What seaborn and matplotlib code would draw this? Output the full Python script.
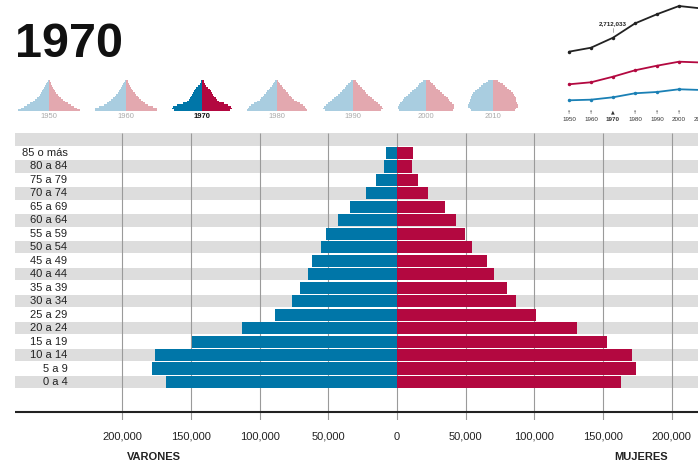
import matplotlib
matplotlib.use("Agg")
import matplotlib.pyplot as plt
import seaborn as sns
import pandas as pd

# Population pyramid 1970
ages = ["85 o más", "80 a 84", "75 a 79", "70 a 74", "65 a 69", "60 a 64",
        "55 a 59", "50 a 54", "45 a 49", "40 a 44", "35 a 39", "30 a 34",
        "25 a 29", "20 a 24", "15 a 19", "10 a 14", "5 a 9", "0 a 4"]
varones = [7800, 9800, 15100, 22900, 34500, 42600, 51500, 55500, 61700,
           64900, 70700, 76500, 88700, 112500, 149200, 176200, 178200, 168200]
mujeres = [11900, 10900, 15000, 22800, 34700, 42700, 49800, 54700, 65400,
           70400, 80400, 86500, 101200, 131000, 152900, 171100, 173700, 162800]
x_ticks = [-200000, -150000, -100000, -50000, 0, 50000, 100000, 150000, 200000]

# thumbnails (half width of each row, top row first)
thumb_years = [1950, 1960, 1970, 1980, 1990, 2000, 2010]
thumb_1950 = [1.2, 1.8, 2.5, 3.5, 4.5, 5.5, 6.5, 7.5, 9, 10, 12, 14, 16, 19, 22, 25, 28, 31]
thumb_1960 = [1.5, 2, 3, 4, 5, 6, 7, 8.5, 10, 11.5, 13, 15, 17, 19, 22, 27, 31, 31]
thumb_1980 = [1.5, 2.5, 3.5, 5, 6.5, 8, 9.5, 11, 12.5, 14, 15.5, 17, 20, 23, 26, 28, 29, 30]
thumb_1990 = [2.5, 3.5, 5, 7, 8.5, 10, 11.5, 13, 15, 17, 19, 21, 23, 25, 27, 29, 30, 28]
thumb_2000 = [3.5, 5, 7, 8.5, 10, 12, 14, 16, 18, 20, 22, 23, 24, 26, 27.5, 28, 28, 27]
thumb_2010 = [5, 7, 10, 12, 14, 16, 18, 20, 21, 22, 22.5, 23, 23, 24, 25, 25, 23, 22]
thumb_centers = [48.7, 126, 202.3, 276.7, 353, 426, 493.3]

# totals line chart (millions)
line_years = [1950, 1960, 1970, 1980, 1990, 2000, 2010]
total = [2.216, 2.357, 2.712, 3.219, 3.545, 3.836, 3.751]
linea_roja = [1.060, 1.131, 1.329, 1.556, 1.719, 1.861, 1.833]
linea_azul = [0.492, 0.514, 0.599, 0.741, 0.787, 0.883, 0.858]

BLUE = "#0076A8"
RED = "#B30840"
LBLUE = "#A9CDE0"
LRED = "#E3A8AF"

sns.set_theme(style="white")
plt.rcParams["font.family"] = ["Liberation Sans", "DejaVu Sans"]

W, H = 698, 465
fig = plt.figure(figsize=(W / 100, H / 100), dpi=100)


def box(x0, y0, x1, y1):
    return [x0 / W, 1 - y1 / H, (x1 - x0) / W, (y1 - y0) / H]


# title
fig.text(15 / W, 1 - 56.7 / H, "1970", fontsize=35, fontweight="bold",
         ha="left", va="baseline", color="#111111")

# ---- main pyramid ----
ax = fig.add_axes(box(15, 132.8, 698, 419.7))
ax.set_facecolor("white")
for k in range(-1, 18, 2):
    ax.axhspan(k - 0.46, k + 0.46, color="#DDDDDD", zorder=0, lw=0)
ax.vlines(x_ticks, -1.5, 19.8, color="#9A9A9A", lw=0.8, zorder=1)

df = pd.DataFrame({"edad": ages, "varones": [-v for v in varones], "mujeres": mujeres})
sns.barplot(data=df, x="varones", y="edad", order=ages, color=BLUE, saturation=1,
            width=0.9, errorbar=None, orient="h", ax=ax, zorder=2, linewidth=0)
sns.barplot(data=df, x="mujeres", y="edad", order=ages, color=RED, saturation=1,
            width=0.9, errorbar=None, orient="h", ax=ax, zorder=2, linewidth=0)

ax.axhline(19.25, color="#222222", lw=1.5, zorder=3)
ax.set_xlim(-278150, 219175)
ax.set_ylim(19.8, -1.5)
ax.set_xticks([])
ax.set_yticks([])
ax.set_xlabel("")
ax.set_ylabel("")
for s in ax.spines.values():
    s.set_visible(False)

for i, lab in enumerate(ages):
    ax.text(-240000, i, lab, ha="right", va="center", fontsize=8, color="#222222")
for t in x_ticks:
    ax.text(t, 21.06, f"{abs(t):,}", ha="center", va="center", fontsize=8,
            color="#222222", clip_on=False)
ax.text(-177000, 22.57, "VARONES", ha="center", va="center", fontsize=8,
        fontweight="bold", color="#222222", clip_on=False)
ax.text(177700, 22.57, "MUJERES", ha="center", va="center", fontsize=8,
        fontweight="bold", color="#222222", clip_on=False)

# ---- thumbnails ----
thumbs = {1950: thumb_1950, 1960: thumb_1960, 1980: thumb_1980,
          1990: thumb_1990, 2000: thumb_2000, 2010: thumb_2010}
for yr, cx in zip(thumb_years, thumb_centers):
    tax = fig.add_axes(box(cx - 35, 80, cx + 35, 111))
    if yr == 1970:
        left = [-v * 0.169 / 1000 for v in varones]
        right = [v * 0.169 / 1000 for v in mujeres]
        cl, cr = BLUE, RED
    else:
        left = [-v for v in thumbs[yr]]
        right = thumbs[yr]
        cl, cr = LBLUE, LRED
    tax.barh(range(18), left, height=1.0, color=cl, lw=0)
    tax.barh(range(18), right, height=1.0, color=cr, lw=0)
    tax.set_xlim(-35, 35)
    tax.set_ylim(17.5, -0.5)
    tax.axis("off")
    fig.text(cx / W, 1 - 117 / H, str(yr), ha="center", va="center",
             fontsize=5.5, color="#111111" if yr == 1970 else "#AAAAAA",
             fontweight="bold" if yr == 1970 else "normal")

# ---- small line chart ----
lax = fig.add_axes(box(560, 0, 698, 125))
ldf = pd.DataFrame({"year": line_years, "total": total,
                    "roja": linea_roja, "azul": linea_azul})
sns.lineplot(data=ldf, x="year", y="total", color="#222222", lw=1.3,
             marker="o", markersize=2.5, markeredgewidth=0, ax=lax)
sns.lineplot(data=ldf, x="year", y="roja", color=RED, lw=1.3,
             marker="o", markersize=2.5, markeredgewidth=0, ax=lax)
sns.lineplot(data=ldf, x="year", y="azul", color="#1A80B5", lw=1.3,
             marker="o", markersize=2.5, markeredgewidth=0, ax=lax)
lax.set_xlim(1945.9, 2008.64)
lax.set_ylim(-0.384, 4.049)
lax.axis("off")
for yr in line_years:
    bold = yr == 1970
    lax.text(yr, -0.206, str(yr), ha="center", va="center", fontsize=4.5,
             fontweight="bold" if bold else "normal", color="#333333", clip_on=False)
    lax.text(yr, 0.077, "▲" if bold else "↑", ha="center", va="center",
             fontsize=3.5, color="#333333", clip_on=False,
             family=["DejaVu Sans"])
lax.text(1970, 3.198, "2,712,033", ha="center", va="center", fontsize=4.5,
         fontweight="bold", color="#222222")
lax.plot([1970, 1970], [2.93, 3.07], color="#888888", lw=0.5)

fig.savefig("out.png", dpi=100)
